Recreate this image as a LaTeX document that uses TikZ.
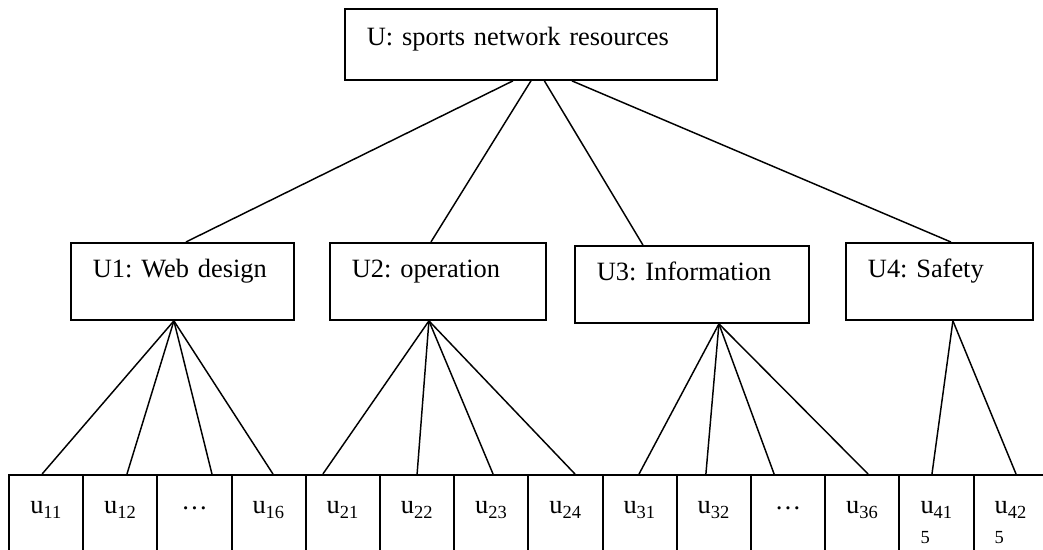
\documentclass[tikz,border=0pt]{standalone}
\usepackage{fontspec}
\setmainfont{Liberation Serif}
\frenchspacing

\tikzset{every picture/.style={line width=1.1pt}}
\tikzset{
  every node/.style={font=\fontsize{19.8pt}{24pt}\selectfont},
  ubox/.style={draw, line width=1.4pt, anchor=north west, align=left, inner xsep=16.5pt, inner ysep=0pt, text height=26.25pt, text depth=31.5pt, text width=#1},
  cell/.style={draw, line width=1.4pt, anchor=north, inner sep=0pt, minimum width=55.65pt, text height=29.25pt, text depth=38.25pt},
  cellwrap/.style={cell, align=left, text width=24pt, font=\fontsize{19.8pt}{19pt}\selectfont}
}

\begin{document}
\begin{tikzpicture}[x=0.75pt,y=0.75pt,yscale=-1,xscale=1]
\useasboundingbox (0,0) rectangle (1043,550);
\clip (0,0) rectangle (1043,550);

%Shape: Rectangle [id:top]
\node[ubox=246pt, text height=27.75pt, text depth=25.5pt] (U) at (344,8) {U: sports network resources};
%Shape: Rectangle [id:level1]
\node[ubox=134.25pt] (U1) at (70,242) {U1: Web design};
\node[ubox=129pt] (U2) at (329,242) {U2: operation};
\node[ubox=142.5pt] (U3) at (574,245) {U3: Information};
\node[ubox=107.25pt] (U4) at (845,242) {U4: Safety};

% Text Node
\node[cell] (c1) at (46.1,474) {u\textsubscript{11}};
\node[cell] (c2) at (120.3,474) {u\textsubscript{12}};
\node[cell] (c3) at (194.5,474) {\raisebox{3.5pt}{…}};
\node[cell] (c4) at (268.7,474) {u\textsubscript{16}};
\node[cell] (c5) at (342.9,474) {u\textsubscript{21}};
\node[cell] (c6) at (417.1,474) {u\textsubscript{22}};
\node[cell] (c7) at (491.3,474) {u\textsubscript{23}};
\node[cell] (c8) at (565.5,474) {u\textsubscript{24}};
\node[cell] (c9) at (639.7,474) {u\textsubscript{31}};
\node[cell] (c10) at (713.9,474) {u\textsubscript{32}};
\node[cell] (c11) at (788.1,474) {\raisebox{3.5pt}{…}};
\node[cell] (c12) at (862.3,474) {u\textsubscript{36}};
\node[cellwrap] (c13) at (936.5,474) {u\textsubscript{41}\\\textsubscript{5}};
\node[cellwrap] (c14) at (1010.7,474) {u\textsubscript{42}\\\textsubscript{5}};

%Straight Lines [id:top-level1]
\draw ([xshift=-13.5pt]U.south) -- ([xshift=2.6pt]U1.north);
\draw (U.south) -- ([xshift=-5.25pt]U2.north);
\draw ([xshift=10.1pt]U.south) -- ([xshift=-36.75pt]U3.north);
\draw ([xshift=30.75pt]U.south) -- ([xshift=8.6pt]U4.north);

%Straight Lines [id:level1-level2]
\draw ([xshift=-6.4pt]U1.south) -- ([xshift=-3pt]c1.north);
\draw ([xshift=-6.4pt]U1.south) -- ([xshift=5pt]c2.north);
\draw ([xshift=-6.4pt]U1.south) -- ([xshift=13.1pt]c3.north);
\draw ([xshift=-6.4pt]U1.south) -- ([xshift=3.2pt]c4.north);
\draw ([xshift=-6.75pt]U2.south) -- ([xshift=-15pt]c5.north);
\draw ([xshift=-6.75pt]U2.south) -- (c6.north);
\draw ([xshift=-6.75pt]U2.south) -- ([xshift=1.3pt]c7.north);
\draw ([xshift=-6.75pt]U2.south) -- ([xshift=7.1pt]c8.north);
\draw ([xshift=20.25pt]U3.south) -- ([xshift=-0.5pt]c9.north);
\draw ([xshift=20.25pt]U3.south) -- ([xshift=-6pt]c10.north);
\draw ([xshift=20.25pt]U3.south) -- ([xshift=-10.5pt]c11.north);
\draw ([xshift=20.25pt]U3.south) -- ([xshift=4.3pt]c12.north);
\draw ([xshift=10.1pt]U4.south) -- ([xshift=-3.4pt]c13.north);
\draw ([xshift=10.1pt]U4.south) -- ([xshift=4pt]c14.north);

\end{tikzpicture}
\end{document}
